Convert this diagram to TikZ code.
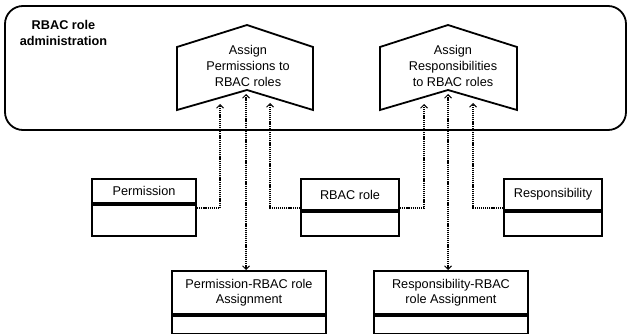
\documentclass[tikz,border=0pt]{standalone}
\usepackage{fontspec}
\setmainfont{Liberation Sans}
\usetikzlibrary{positioning, arrows.meta}
\tikzset{
  x=1pt, y=-1pt, % picture coordinates run like pixels, downwards
  every node/.style={font=\fontsize{12.7}{15.5}\selectfont},
  frame/.style={line width=1.8pt, line join=miter},
  clshead/.style={draw, line width=2pt, inner sep=0pt, align=center}, % name part of a class box
  clsbody/.style={draw, line width=2pt, inner sep=0pt}, % empty lower part
  link/.style={line width=1.2pt, dash pattern=on 1.2pt off 0.9pt,
    -{Straight Barb[length=3.5pt,width=7pt,line width=1pt]}},
  twolink/.style={link, {Straight Barb[length=3.5pt,width=7pt,line width=1pt]}-{Straight Barb[length=3.5pt,width=7pt,line width=1pt]}},
}

\begin{document}
\begin{tikzpicture}
    \useasboundingbox (0,0) rectangle (628,334);

    % container for the administration tasks
    \node[draw, frame, rounded corners=18pt, minimum width=621pt, minimum height=124pt] (admin) at (315.5,68) {};
    \node[font=\fontsize{12.7}{16.5}\selectfont\bfseries, align=center] (admintitle) at (63.5,33) {RBAC role\\administration};

    % the two tasks
    \draw[frame] (177,47) -- (247,25) -- (313,47) -- (313,110) -- (247,90) -- (177,110) -- cycle;
    \node[align=center, font=\fontsize{12.7}{16}\selectfont] (taskperm) at (248,66) {Assign\\Permissions to\\RBAC roles};
    \draw[frame] (380,47) -- (448,25) -- (517,47) -- (517,110) -- (448,90) -- (380,110) -- cycle;
    \node[align=center, font=\fontsize{12.7}{16}\selectfont] (taskresp) at (453,66) {Assign\\Responsibilities\\to RBAC roles};

    % where the dotted links enter the tasks
    \coordinate (pa1) at (220,104);
    \coordinate (pa2) at (246,94);
    \coordinate (pa3) at (270,103);
    \coordinate (pr1) at (424,104);
    \coordinate (pr2) at (448,94);
    \coordinate (pr3) at (473,103);

    % classes
    \node[clshead, minimum width=104pt, minimum height=24pt] (permh) at (144,191) {Permission};
    \node[clsbody, minimum width=104pt, minimum height=31pt, below=0pt of permh] (permb) {};
    \node[clshead, minimum width=98pt, minimum height=31pt] (roleh) at (350,194.5) {RBAC role};
    \node[clsbody, minimum width=98pt, minimum height=24pt, below=0pt of roleh] (roleb) {};
    \node[clshead, minimum width=98pt, minimum height=31pt] (resph) at (553,194.5) {Responsibility};
    \node[clsbody, minimum width=98pt, minimum height=24pt, below=0pt of resph] (respb) {};
    \node[clshead, minimum width=154pt, minimum height=43pt] (pah) at (249,292.5) {Permission-RBAC role\\Assignment};
    \node[clsbody, minimum width=154pt, minimum height=18pt, below=0pt of pah] (pab) {};
    \node[clshead, minimum width=154pt, minimum height=43pt] (rah) at (451,292.5) {Responsibility-RBAC\\role Assignment};
    \node[clsbody, minimum width=154pt, minimum height=18pt, below=0pt of rah] (rab) {};

    % links
    \draw[link] (permb.north east) ++(0,4) -| (pa1);
    \draw[link] (roleh.south west) ++(0,-3) -| (pa3);
    \draw[link] (roleh.south east) ++(0,-3) -| (pr1);
    \draw[link] (resph.south west) ++(0,-3) -| (pr3);
    \draw[twolink] (pa2) -- (pah.north -| pa2);
    \draw[twolink] (pr2) -- (rah.north -| pr2);

\end{tikzpicture}
\end{document}
